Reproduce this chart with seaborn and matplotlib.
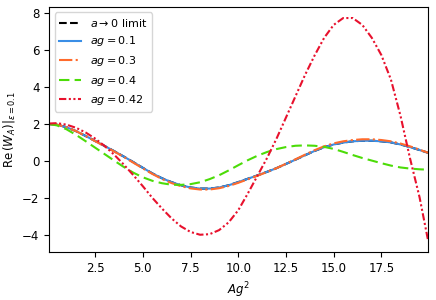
import numpy as np
import pandas as pd
import seaborn as sns
import matplotlib
matplotlib.use("Agg")
import matplotlib.pyplot as plt

# x grid (A g^2)
ag2 = [0.1, 0.5, 1.0, 1.5, 2.0, 2.5, 3.0, 3.5, 4.0, 4.5,
       5.0, 5.5, 6.0, 6.5, 7.0, 7.5, 8.0, 8.5, 9.0, 9.5,
       10.0, 10.5, 11.0, 11.5, 12.0, 12.5, 13.0, 13.5, 14.0, 14.5,
       15.0, 15.5, 16.0, 16.5, 17.0, 17.5, 18.0, 18.5, 19.0, 19.5, 19.95]

# Re(W_A)
w_limit = [2.00, 1.97, 1.83, 1.62, 1.36, 1.09, 0.82, 0.54, 0.25, -0.05,
           -0.36, -0.66, -0.92, -1.13, -1.30, -1.42, -1.48, -1.48, -1.42, -1.30,
           -1.13, -0.95, -0.77, -0.58, -0.38, -0.15, 0.08, 0.32, 0.55, 0.75,
           0.90, 1.00, 1.07, 1.10, 1.10, 1.07, 1.01, 0.90, 0.76, 0.60, 0.45]
w_01 = [2.00, 1.97, 1.83, 1.62, 1.36, 1.09, 0.82, 0.54, 0.25, -0.05,
        -0.36, -0.66, -0.92, -1.13, -1.30, -1.42, -1.48, -1.48, -1.42, -1.30,
        -1.13, -0.95, -0.77, -0.58, -0.38, -0.15, 0.08, 0.32, 0.55, 0.75,
        0.90, 1.00, 1.07, 1.10, 1.10, 1.07, 1.01, 0.90, 0.76, 0.60, 0.45]
w_03 = [2.00, 1.97, 1.83, 1.62, 1.36, 1.08, 0.80, 0.52, 0.23, -0.08,
        -0.39, -0.69, -0.96, -1.18, -1.35, -1.47, -1.53, -1.53, -1.46, -1.34,
        -1.17, -0.98, -0.79, -0.59, -0.38, -0.14, 0.10, 0.35, 0.59, 0.80,
        0.96, 1.07, 1.14, 1.18, 1.18, 1.14, 1.07, 0.95, 0.80, 0.62, 0.45]
w_04 = [2.00, 1.93, 1.72, 1.42, 1.08, 0.73, 0.38, 0.03, -0.31, -0.62,
        -0.87, -1.06, -1.19, -1.27, -1.28, -1.24, -1.14, -0.97, -0.76, -0.50,
        -0.22, 0.05, 0.29, 0.49, 0.65, 0.76, 0.83, 0.85, 0.83, 0.77,
        0.66, 0.50, 0.33, 0.17, 0.03, -0.11, -0.24, -0.34, -0.40, -0.44, -0.46]
w_042 = [2.03, 2.05, 1.97, 1.80, 1.55, 1.22, 0.82, 0.35, -0.18, -0.75,
         -1.35, -1.98, -2.55, -3.08, -3.52, -3.82, -3.97, -3.94, -3.72, -3.30,
         -2.65, -1.75, -0.80, 0.15, 1.20, 2.35, 3.50, 4.65, 5.70, 6.65,
         7.35, 7.72, 7.72, 7.35, 6.65, 5.72, 4.40, 2.45, 0.15, -1.95, -4.30]

labels = [r'$a \to 0$ limit', r'$ag = 0.1$', r'$ag = 0.3$', r'$ag = 0.4$', r'$ag = 0.42$']
series = [w_limit, w_01, w_03, w_04, w_042]
colors = ['black', '#3a8ee6', '#ff6b2c', '#4cdc08', '#e8112d']
styles = ['--', '-', '-.', (0, (5, 2.5)), (0, (3.5, 1.2, 1, 1.2, 1, 1.2))]

fig, ax = plt.subplots(figsize=(4.36, 3.0), dpi=100)
for vals, lab, col, ls in zip(series, labels, colors, styles):
    sns.lineplot(x=ag2, y=vals, ax=ax, color=col, linestyle=ls,
                 linewidth=1.5, label=lab)

ax.set_xlim(ag2[0], ag2[-1])
ax.set_xlabel(r'$Ag^2$', fontsize=8.5)
ax.set_ylabel(r'$\mathrm{Re}\,(W_A)|_{\epsilon=0.1}$', fontsize=8.5)
ax.tick_params(labelsize=8.5)
ax.legend(loc='upper left', fontsize=8)
fig.subplots_adjust(left=0.113, right=0.982, top=0.977, bottom=0.16)
plt.savefig('out.png', dpi=100)
